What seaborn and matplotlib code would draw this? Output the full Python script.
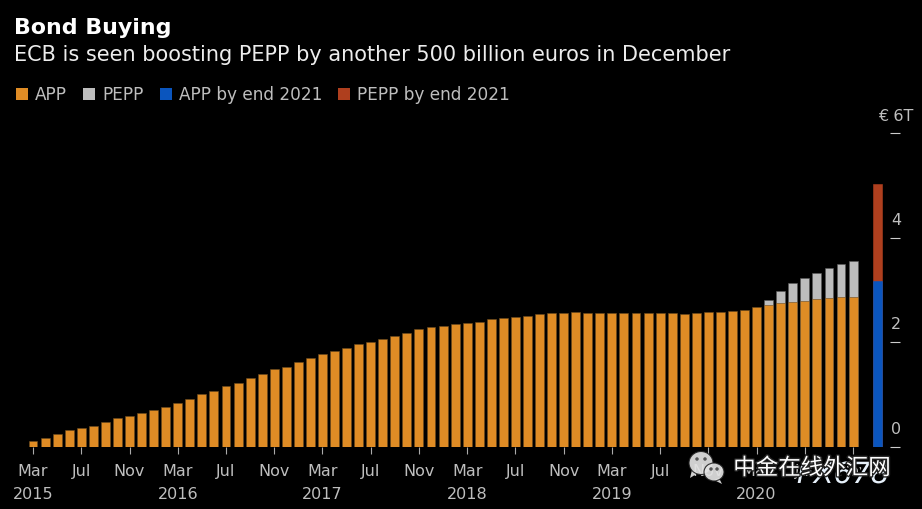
# -*- coding: utf-8 -*-
import pandas as pd
import matplotlib
matplotlib.use('Agg')
import matplotlib.pyplot as plt
import seaborn as sns
from matplotlib.patches import Ellipse, Polygon, Patch
from matplotlib.transforms import IdentityTransform, ScaledTranslation
import matplotlib.patheffects as pe

# --- Data (EUR trillions) ---
app = [0.115, 0.16, 0.24, 0.31, 0.35, 0.40, 0.47, 0.54, 0.59, 0.64, 0.71, 0.76,
       0.83, 0.906, 1.00, 1.07, 1.167, 1.21, 1.31, 1.385, 1.48, 1.525, 1.62, 1.69,
       1.77, 1.84, 1.89, 1.96, 2.00, 2.055, 2.125, 2.175, 2.245, 2.29, 2.315, 2.34,
       2.365, 2.385, 2.44, 2.46, 2.49, 2.51, 2.535, 2.555, 2.555, 2.58, 2.555, 2.555,
       2.555, 2.555, 2.555, 2.555, 2.555, 2.555, 2.535, 2.555, 2.58, 2.58, 2.605, 2.62,
       2.675, 2.705, 2.745, 2.775, 2.795, 2.82, 2.845, 2.865, 2.865]
pepp_months = [0.11, 0.235, 0.355, 0.43, 0.50, 0.57, 0.625, 0.695]
pepp = [0.0] * (len(app) - len(pepp_months)) + pepp_months

app_2021 = 3.17
pepp_2021 = 1.855
forecast_pos = 70

tick_months = ['Mar', 'Jul', 'Nov'] * 6
tick_years = ['2015', '', '', '2016', '', '', '2017', '', '', '2018', '', '',
              '2019', '', '', '2020', '', '']
y_ticks = [0, 2, 4, 6]
y_labels = ['0', '2', '4', '€ 6T']

# --- Colours ---
BG = '#000000'
ORANGE = '#DF8C25'
GREY = '#BDBDBD'
BLUE = '#0A55BE'
RED = '#AF3F1E'
TEXT = '#BEBEBE'

W, H = 922, 509


def draw_watermark(fig):
    """WeChat icon and the two overlaid site names at the bottom right."""
    px = IdentityTransform()
    bubbles = [((701, 463), 24, 23, (697, 459), (705, 459), [(692, 470), (690, 478), (698, 473)]),
               ((714, 472), 20, 18, (711, 469), (717, 469), [(719, 478), (722, 484), (714, 480)])]
    for (cx, cy), w, h, eye1, eye2, tail in bubbles:
        fig.add_artist(Polygon([(x, H - y) for x, y in tail], closed=True, transform=px,
                               fc='#E2E2E2', ec='none', alpha=0.92, zorder=10))
        fig.add_artist(Ellipse((cx, H - cy), w, h, transform=px, fc='#E2E2E2', ec='#222222',
                               lw=0.8, alpha=0.92, zorder=10))
        for ex, ey in (eye1, eye2):
            fig.add_artist(Ellipse((ex, H - ey), 3.5, 3.5, transform=px, fc='#555555',
                                   ec='none', zorder=11))
    fig.text(843 / W, 1 - 475 / H, 'FX678', color='#E6F0FA', fontsize=21, style='italic',
             family='DejaVu Sans', ha='center', va='center', zorder=12,
             path_effects=[pe.withStroke(linewidth=3, foreground='#000000')])
    fig.text(812 / W, 1 - 468 / H, '中金在线外汇网', color='#FFFFFF', fontsize=16.2,
             family=['Noto Sans CJK SC', 'DejaVu Sans'], ha='center', va='center', zorder=13,
             path_effects=[pe.withStroke(linewidth=2, foreground='#222222')])


def main():
    sns.set_theme(style='dark', rc={'figure.facecolor': BG, 'axes.facecolor': BG,
                                    'axes.grid': False})
    plt.rcParams['font.family'] = ['DejaVu Sans']

    df = pd.DataFrame({'pos': range(len(app)), 'app': app, 'pepp': pepp})
    df['total'] = df['app'] + df['pepp']
    fc = pd.DataFrame({'pos': [forecast_pos], 'app': [app_2021],
                       'total': [app_2021 + pepp_2021]})

    fig = plt.figure(figsize=(W / 100, H / 100), dpi=100, facecolor=BG)
    ax = fig.add_axes([20 / W, (H - 446.6) / H, 870 / W, 313.2 / H])

    bar_kw = dict(x='pos', native_scale=True, width=0.74, saturation=1, errorbar=None,
                  legend=False, ax=ax, linewidth=0.4)
    # grey only shows above APP, so only the PEPP months get a total bar
    sns.barplot(data=df[df['pepp'] > 0], y='total', color=GREY, edgecolor='#5A5A5A', **bar_kw)
    sns.barplot(data=df, y='app', color=ORANGE, edgecolor='#6A4A20', **bar_kw)
    sns.barplot(data=fc, y='total', color=RED, edgecolor=RED, **bar_kw)
    sns.barplot(data=fc, y='app', color=BLUE, edgecolor=BLUE, **bar_kw)

    ax.set_xlim(-1.08, 71.06)
    ax.set_ylim(0, 6)
    ax.set_xlabel('')
    ax.set_ylabel('')
    sns.despine(ax=ax, left=True, bottom=True, top=True, right=True)

    ax.set_xticks(range(0, len(app), 4))
    ax.set_xticklabels([f'{m}\n{y}' for m, y in zip(tick_months, tick_years)],
                       color=TEXT, fontsize=11.5, linespacing=1.68)
    ax.tick_params(axis='x', length=5, width=0.8, color='#AAAAAA', pad=7.5, bottom=True)

    ax.yaxis.tick_right()
    ax.set_yticks(y_ticks)
    ax.set_yticklabels(y_labels, color=TEXT, fontsize=11.5)
    ax.tick_params(axis='y', right=True, length=7.2, width=0.8, color='#CCCCCC', pad=-3)
    for lab in ax.get_yticklabels():
        lab.set_ha('center')
        lab.set_va('bottom')
        lab.set_transform(lab.get_transform() + ScaledTranslation(0, 7 / 72, fig.dpi_scale_trans))

    fig.text(14 / W, 1 - 28 / H, 'Bond Buying', color='#FFFFFF', fontsize=15.9,
             fontweight='bold', va='center', ha='left')
    fig.text(14 / W, 1 - 55 / H, 'ECB is seen boosting PEPP by another 500 billion euros in December',
             color='#EDEDED', fontsize=15, va='center', ha='left')

    handles = [Patch(fc=ORANGE, ec='none', label='APP'), Patch(fc=GREY, ec='none', label='PEPP'),
               Patch(fc=BLUE, ec='none', label='APP by end 2021'),
               Patch(fc=RED, ec='none', label='PEPP by end 2021')]
    fig.legend(handles=handles, loc='upper left', bbox_to_anchor=(11 / W, 1 - 81 / H), ncol=4,
               frameon=False, fontsize=12.2, labelcolor=TEXT, handlelength=0.72, handleheight=0.72,
               handletextpad=0.4, columnspacing=0.95, borderaxespad=0, borderpad=0.3)

    draw_watermark(fig)
    fig.savefig('out.png', dpi=100, facecolor=BG)


if __name__ == '__main__':
    main()
